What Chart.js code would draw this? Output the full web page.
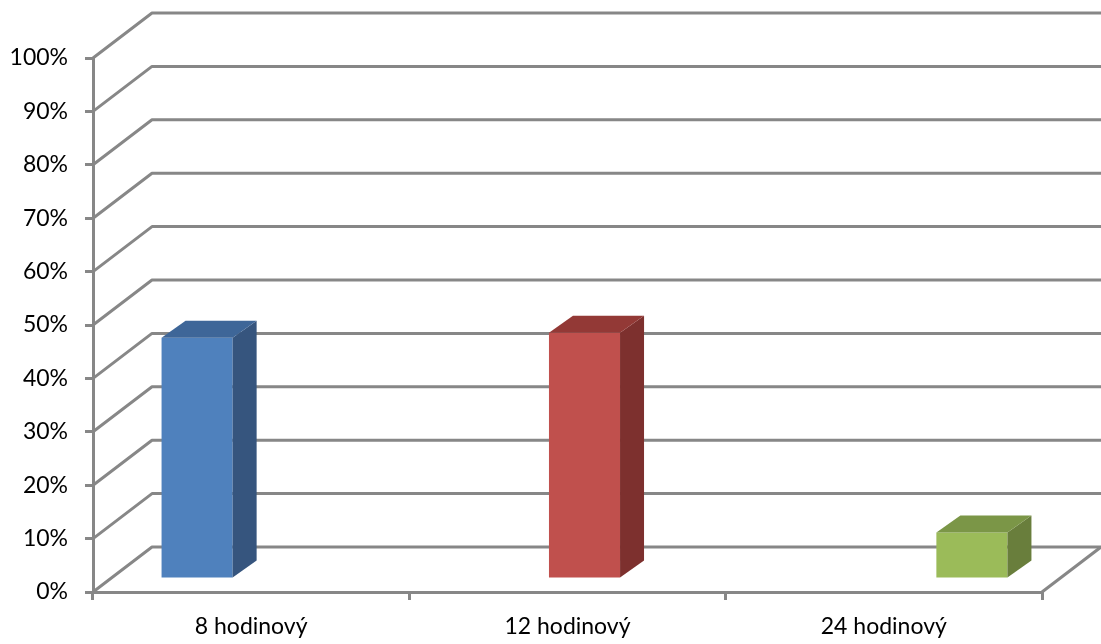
<!DOCTYPE html>
<html>
<head>
<meta charset="utf-8">
<script src="https://cdn.jsdelivr.net/npm/chart.js@4/dist/chart.umd.min.js"></script>
<style>
  html, body { margin: 0; padding: 0; background: #fff; }
  #wrap { width: 1101px; height: 644px; }
</style>
</head>
<body>
<div id="wrap"><canvas id="mainchart"></canvas></div>
<script>
const categories = ["8 hodinový", "12 hodinový", "24 hodinový"];
const shiftLabels = ["8 hodinový", "12 hodinový", "24 hodinový"];
const shares = [45.2, 46.1, 8.7];
const yTicks = [0, 10, 20, 30, 40, 50, 60, 70, 80, 90, 100];

const frontColors = ["#4f81bd", "#c0504d", "#9bbb59"];
const sideColors = ["#36557e", "#7d302e", "#697e3c"];
const topColors = ["#3e6698", "#933936", "#7b9647"];

const wallColor = "#878787";
// oblique depth of the whole plot box, and where the columns sit inside it
const depth = { dx: 59, dy: -45 };
const barFront = { dx: 17, dy: -13 };
const barDepth = { dx: 24, dy: -17 };

// one dataset per shift so each column gets its own slot and colour
const datasets = shiftLabels.map((label, i) => ({
  label: label,
  data: categories.map((c, j) => (i === j ? shares[i] : null)),
  backgroundColor: frontColors[i],
  borderWidth: 0,
  categoryPercentage: 0.674,
  barPercentage: 1,
}));

const walls3d = {
  id: "walls3d",
  beforeDatasetsDraw(chart) {
    const ctx = chart.ctx;
    const y = chart.scales.y;
    const left = chart.chartArea.left;
    const right = chart.chartArea.right;
    ctx.save();
    ctx.strokeStyle = wallColor;
    ctx.lineWidth = 3;
    ctx.lineCap = "butt";
    ctx.lineJoin = "round";
    yTicks.forEach((t) => {
      const py = y.getPixelForValue(t);
      ctx.beginPath();
      ctx.moveTo(left, py);
      ctx.lineTo(left + depth.dx, py + depth.dy);
      ctx.lineTo(right + depth.dx, py + depth.dy);
      ctx.stroke();
    });
    // right edge of the floor
    const py0 = y.getPixelForValue(0);
    ctx.beginPath();
    ctx.moveTo(right, py0);
    ctx.lineTo(right + depth.dx, py0 + depth.dy);
    ctx.stroke();
    ctx.restore();

    // front faces of the columns are drawn by Chart.js, pushed back into the box
    ctx.save();
    ctx.translate(barFront.dx, barFront.dy);
  },
  afterDatasetsDraw(chart) {
    const ctx = chart.ctx;
    ctx.restore();
    ctx.save();
    chart.data.datasets.forEach((ds, i) => {
      const meta = chart.getDatasetMeta(i);
      meta.data.forEach((bar, j) => {
        if (ds.data[j] == null) return;
        const p = bar.getProps(["x", "y", "base", "width"], true);
        const l = p.x - p.width / 2 + barFront.dx;
        const r = p.x + p.width / 2 + barFront.dx;
        const t = p.y + barFront.dy;
        const b = p.base + barFront.dy;
        // side face
        ctx.fillStyle = sideColors[i];
        ctx.beginPath();
        ctx.moveTo(r, t);
        ctx.lineTo(r + barDepth.dx, t + barDepth.dy);
        ctx.lineTo(r + barDepth.dx, b + barDepth.dy);
        ctx.lineTo(r, b);
        ctx.closePath();
        ctx.fill();
        // top face
        ctx.fillStyle = topColors[i];
        ctx.beginPath();
        ctx.moveTo(l, t);
        ctx.lineTo(l + barDepth.dx, t + barDepth.dy);
        ctx.lineTo(r + barDepth.dx, t + barDepth.dy);
        ctx.lineTo(r, t);
        ctx.closePath();
        ctx.fill();
      });
    });
    ctx.restore();
  },
};

Chart.defaults.font.family = "Lato, 'Noto Sans', sans-serif";
Chart.defaults.font.size = 23;
Chart.defaults.color = "#000";

const ctx = document.getElementById("mainchart").getContext("2d");
const mainchart = new Chart(ctx, {
  type: "bar",
  data: { labels: categories, datasets: datasets },
  plugins: [walls3d],
  options: {
    responsive: true,
    maintainAspectRatio: false,
    animation: false,
    layout: { padding: { top: 58, right: 59, left: 0, bottom: 0 } },
    plugins: { legend: { display: false }, tooltip: { enabled: false } },
    scales: {
      x: {
        grid: {
          offset: true,
          drawOnChartArea: false,
          color: wallColor,
          lineWidth: 3,
          tickLength: 8,
        },
        border: { color: wallColor, width: 3 },
        ticks: { padding: 13 },
        afterFit: (axis) => { axis.height = 52; },
      },
      y: {
        min: 0,
        max: 100,
        afterBuildTicks: (axis) => { axis.ticks = yTicks.map((v) => ({ value: v })); },
        grid: {
          drawOnChartArea: false,
          color: wallColor,
          lineWidth: 3,
          tickLength: 8,
        },
        border: { color: wallColor, width: 3 },
        ticks: { padding: 17, callback: (v) => v + "%" },
        afterFit: (axis) => { axis.width = 93; },
      },
    },
  },
});
</script>
</body>
</html>
